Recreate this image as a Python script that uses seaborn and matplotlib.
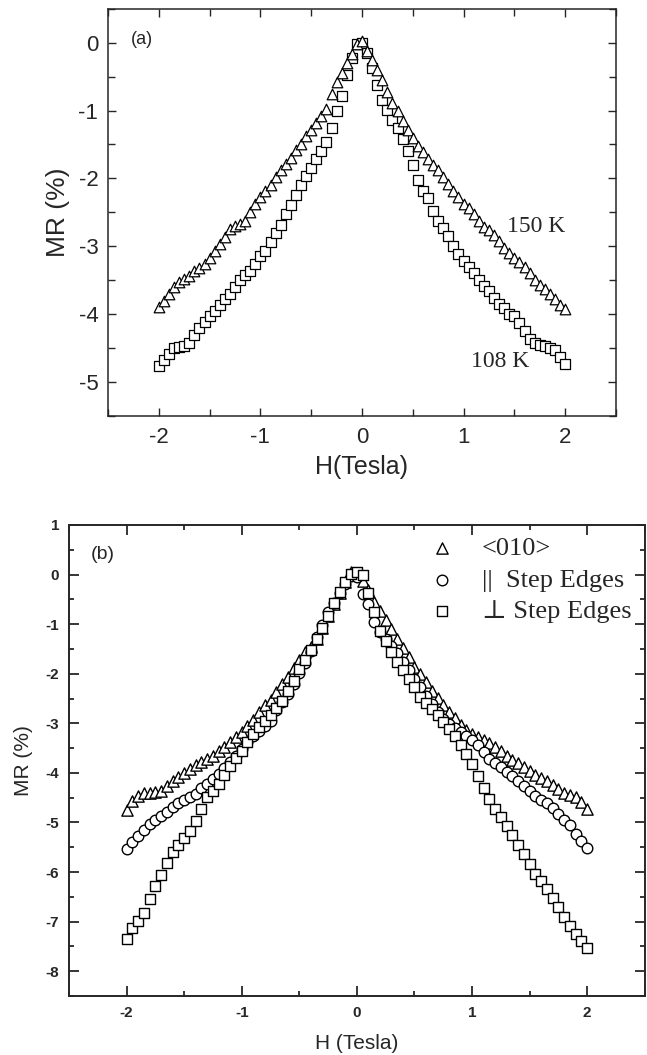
import numpy as np
import pandas as pd
import matplotlib
matplotlib.use('Agg')
import matplotlib.pyplot as plt
import seaborn as sns
from matplotlib.ticker import MultipleLocator

# field sweep (Tesla), same grid for every curve
H = [-2.00, -1.95, -1.90, -1.85, -1.80, -1.75, -1.70, -1.65, -1.60, -1.55,
     -1.50, -1.45, -1.40, -1.35, -1.30, -1.25, -1.20, -1.15, -1.10, -1.05,
     -1.00, -0.95, -0.90, -0.85, -0.80, -0.75, -0.70, -0.65, -0.60, -0.55,
     -0.50, -0.45, -0.40, -0.35, -0.30, -0.25, -0.20, -0.15, -0.10, -0.05,
     0.00, 0.05, 0.10, 0.15, 0.20, 0.25, 0.30, 0.35, 0.40, 0.45,
     0.50, 0.55, 0.60, 0.65, 0.70, 0.75, 0.80, 0.85, 0.90, 0.95,
     1.00, 1.05, 1.10, 1.15, 1.20, 1.25, 1.30, 1.35, 1.40, 1.45,
     1.50, 1.55, 1.60, 1.65, 1.70, 1.75, 1.80, 1.85, 1.90, 1.95, 2.00]

# (a) MR at two temperatures
mr_150K = [-3.89, -3.80, -3.70, -3.60, -3.52, -3.48, -3.44, -3.36, -3.32, -3.26,
           -3.17, -3.07, -2.96, -2.86, -2.75, -2.70, -2.67, -2.62, -2.50, -2.37,
           -2.27, -2.18, -2.10, -1.98, -1.88, -1.78, -1.70, -1.58, -1.49, -1.38,
           -1.28, -1.18, -1.08, -0.97, -0.76, -0.58, -0.44, -0.30, -0.17, -0.02,
           0.02, -0.12, -0.25, -0.40, -0.55, -0.73, -0.89, -1.00, -1.15, -1.28,
           -1.41, -1.52, -1.61, -1.72, -1.80, -1.88, -1.98, -2.08, -2.19, -2.27,
           -2.37, -2.44, -2.52, -2.63, -2.71, -2.76, -2.83, -2.92, -3.02, -3.10,
           -3.17, -3.23, -3.31, -3.40, -3.50, -3.57, -3.63, -3.70, -3.77, -3.86, -3.93]

mr_108K = [-4.77, -4.68, -4.58, -4.50, -4.48, -4.47, -4.42, -4.30, -4.20, -4.12,
           -4.03, -3.95, -3.86, -3.78, -3.70, -3.60, -3.49, -3.43, -3.36, -3.26,
           -3.15, -3.07, -2.93, -2.80, -2.68, -2.53, -2.39, -2.24, -2.09, -1.97,
           -1.84, -1.72, -1.60, -1.47, -1.26, -1.00, -0.79, -0.47, -0.22, -0.02,
           0.00, -0.15, -0.37, -0.62, -0.85, -0.99, -1.14, -1.25, -1.42, -1.60,
           -1.80, -2.02, -2.18, -2.29, -2.48, -2.63, -2.73, -2.85, -2.99, -3.11,
           -3.21, -3.31, -3.39, -3.50, -3.58, -3.66, -3.76, -3.85, -3.91, -3.99,
           -4.03, -4.13, -4.25, -4.36, -4.43, -4.46, -4.47, -4.50, -4.53, -4.63, -4.74]

# (b) MR for three field directions
mr_010 = [-4.75, -4.56, -4.46, -4.41, -4.40, -4.38, -4.36, -4.27, -4.16, -4.08,
          -4.00, -3.92, -3.85, -3.78, -3.72, -3.66, -3.55, -3.47, -3.37, -3.27,
          -3.17, -3.05, -2.94, -2.78, -2.64, -2.53, -2.37, -2.21, -2.07, -1.88,
          -1.72, -1.56, -1.47, -1.30, -1.08, -0.84, -0.59, -0.37, -0.15, 0.05,
          0.03, -0.12, -0.32, -0.55, -0.74, -0.92, -1.10, -1.29, -1.48, -1.67,
          -1.87, -2.01, -2.17, -2.34, -2.48, -2.63, -2.77, -2.89, -3.03, -3.14,
          -3.21, -3.28, -3.34, -3.40, -3.47, -3.56, -3.66, -3.74, -3.81, -3.88,
          -3.97, -4.04, -4.11, -4.17, -4.25, -4.33, -4.40, -4.45, -4.49, -4.58, -4.73]

mr_par = [-5.54, -5.40, -5.27, -5.15, -5.04, -4.94, -4.86, -4.78, -4.68, -4.61,
          -4.55, -4.49, -4.42, -4.31, -4.22, -4.13, -4.02, -3.90, -3.78, -3.66,
          -3.51, -3.38, -3.25, -3.16, -3.06, -2.96, -2.74, -2.57, -2.41, -2.20,
          -1.98, -1.78, -1.54, -1.26, -1.01, -0.76, -0.57, -0.38, -0.20, -0.03,
          -0.05, -0.40, -0.60, -0.95, -1.15, -1.29, -1.45, -1.59, -1.77, -1.93,
          -2.11, -2.27, -2.44, -2.61, -2.77, -2.91, -3.01, -3.10, -3.17, -3.25,
          -3.34, -3.44, -3.57, -3.71, -3.80, -3.89, -3.98, -4.07, -4.17, -4.27,
          -4.36, -4.46, -4.54, -4.61, -4.70, -4.82, -4.94, -5.05, -5.24, -5.38, -5.51]

mr_perp = [-7.35, -7.12, -6.98, -6.82, -6.55, -6.28, -6.05, -5.82, -5.60, -5.46,
           -5.32, -5.17, -4.97, -4.72, -4.48, -4.36, -4.22, -4.05, -3.86, -3.70,
           -3.55, -3.38, -3.21, -3.07, -2.95, -2.84, -2.70, -2.55, -2.34, -2.14,
           -1.90, -1.73, -1.53, -1.30, -1.08, -0.84, -0.57, -0.35, -0.15, 0.02,
           0.05, 0.00, -0.38, -0.75, -1.13, -1.35, -1.56, -1.76, -1.93, -2.10,
           -2.27, -2.46, -2.59, -2.71, -2.83, -2.97, -3.11, -3.25, -3.43, -3.62,
           -3.82, -4.06, -4.30, -4.53, -4.72, -4.88, -5.07, -5.26, -5.45, -5.64,
           -5.84, -6.04, -6.19, -6.34, -6.52, -6.71, -6.90, -7.08, -7.25, -7.40, -7.53]

labels_b = ['<010>', '||  Step Edges', '\u22a5 Step Edges']

sns.set_style('ticks')
plt.rcParams['font.family'] = ['Liberation Sans', 'DejaVu Sans']
plt.rcParams['axes.unicode_minus'] = False
serif = ['Liberation Serif', 'DejaVu Serif']

fig = plt.figure(figsize=(6.47, 10.55), dpi=100)
ax1 = fig.add_axes([0.167, 0.6057, 0.785, 0.386])
ax2 = fig.add_axes([0.1066, 0.0559, 0.890, 0.4465])

# ---- panel (a) ----
df_a = pd.DataFrame({'H': H, 'MR': mr_150K})
sns.scatterplot(data=df_a, x='H', y='MR', marker='^', s=58, color='white',
                edgecolor='black', linewidth=0.9, ax=ax1, zorder=3)
df_a2 = pd.DataFrame({'H': H, 'MR': mr_108K})
sns.scatterplot(data=df_a2, x='H', y='MR', marker='s', s=48, color='white',
                edgecolor='black', linewidth=0.9, ax=ax1, zorder=2)

ax1.set_xlim(-2.5, 2.5)
ax1.set_ylim(-5.5, 0.5)
ax1.xaxis.set_major_locator(MultipleLocator(1))
ax1.xaxis.set_minor_locator(MultipleLocator(0.5))
ax1.yaxis.set_major_locator(MultipleLocator(1))
ax1.yaxis.set_minor_locator(MultipleLocator(0.5))
ax1.tick_params(which='both', direction='in', top=True, right=True, width=1.0)
ax1.tick_params(which='major', length=6, labelsize=16, pad=7)
ax1.tick_params(which='minor', length=5)
ax1.tick_params(axis='x', which='major', pad=8)
for sp in ax1.spines.values():
    sp.set_linewidth(1.1)
ax1.set_xlabel('H(Tesla)', fontsize=18, labelpad=5)
ax1.set_ylabel('MR (%)', fontsize=19, labelpad=6)

ax1.text(-2.28, 0.05, '(a)', fontsize=13, va='center', ha='left')
ax1.text(1.43, -2.71, '150 K', fontsize=17, va='center', ha='left', family=serif)
ax1.text(1.07, -4.70, '108 K', fontsize=17, va='center', ha='left', family=serif)

# ---- panel (b) ----
for vals, mk, sz, lab in zip([mr_010, mr_par, mr_perp], ['^', 'o', 's'], [66, 58, 58], labels_b):
    d = pd.DataFrame({'H': H, 'MR': vals})
    sns.scatterplot(data=d, x='H', y='MR', marker=mk, s=sz, color='white',
                    edgecolor='black', linewidth=1.0, ax=ax2, label=lab)

ax2.set_xlim(-2.5, 2.5)
ax2.set_ylim(-8.5, 1)
ax2.xaxis.set_major_locator(MultipleLocator(1))
ax2.xaxis.set_minor_locator(MultipleLocator(0.5))
ax2.yaxis.set_major_locator(MultipleLocator(1))
ax2.yaxis.set_minor_locator(MultipleLocator(0.5))
ax2.tick_params(which='both', direction='in', top=True, right=True, width=1.3)
ax2.tick_params(which='major', length=7, labelsize=11, pad=7)
ax2.tick_params(which='minor', length=3.5)
for lab in ax2.get_xticklabels() + ax2.get_yticklabels():
    lab.set_fontweight('bold')
for sp in ax2.spines.values():
    sp.set_linewidth(1.4)
ax2.set_xlabel('H (Tesla)', fontsize=15, labelpad=10)
ax2.set_ylabel('MR (%)', fontsize=15, labelpad=9)

ax2.text(-2.31, 0.4, '(b)', fontsize=14, va='center', ha='left')

ax2.legend(loc='upper left', bbox_to_anchor=(0.625, 0.975), frameon=False,
           prop={'family': serif, 'size': 19}, handlelength=1.0,
           handletextpad=1.0, labelspacing=0.3, borderaxespad=0, borderpad=0,
           markerscale=1.0)

fig.savefig('out.png', dpi=100)
